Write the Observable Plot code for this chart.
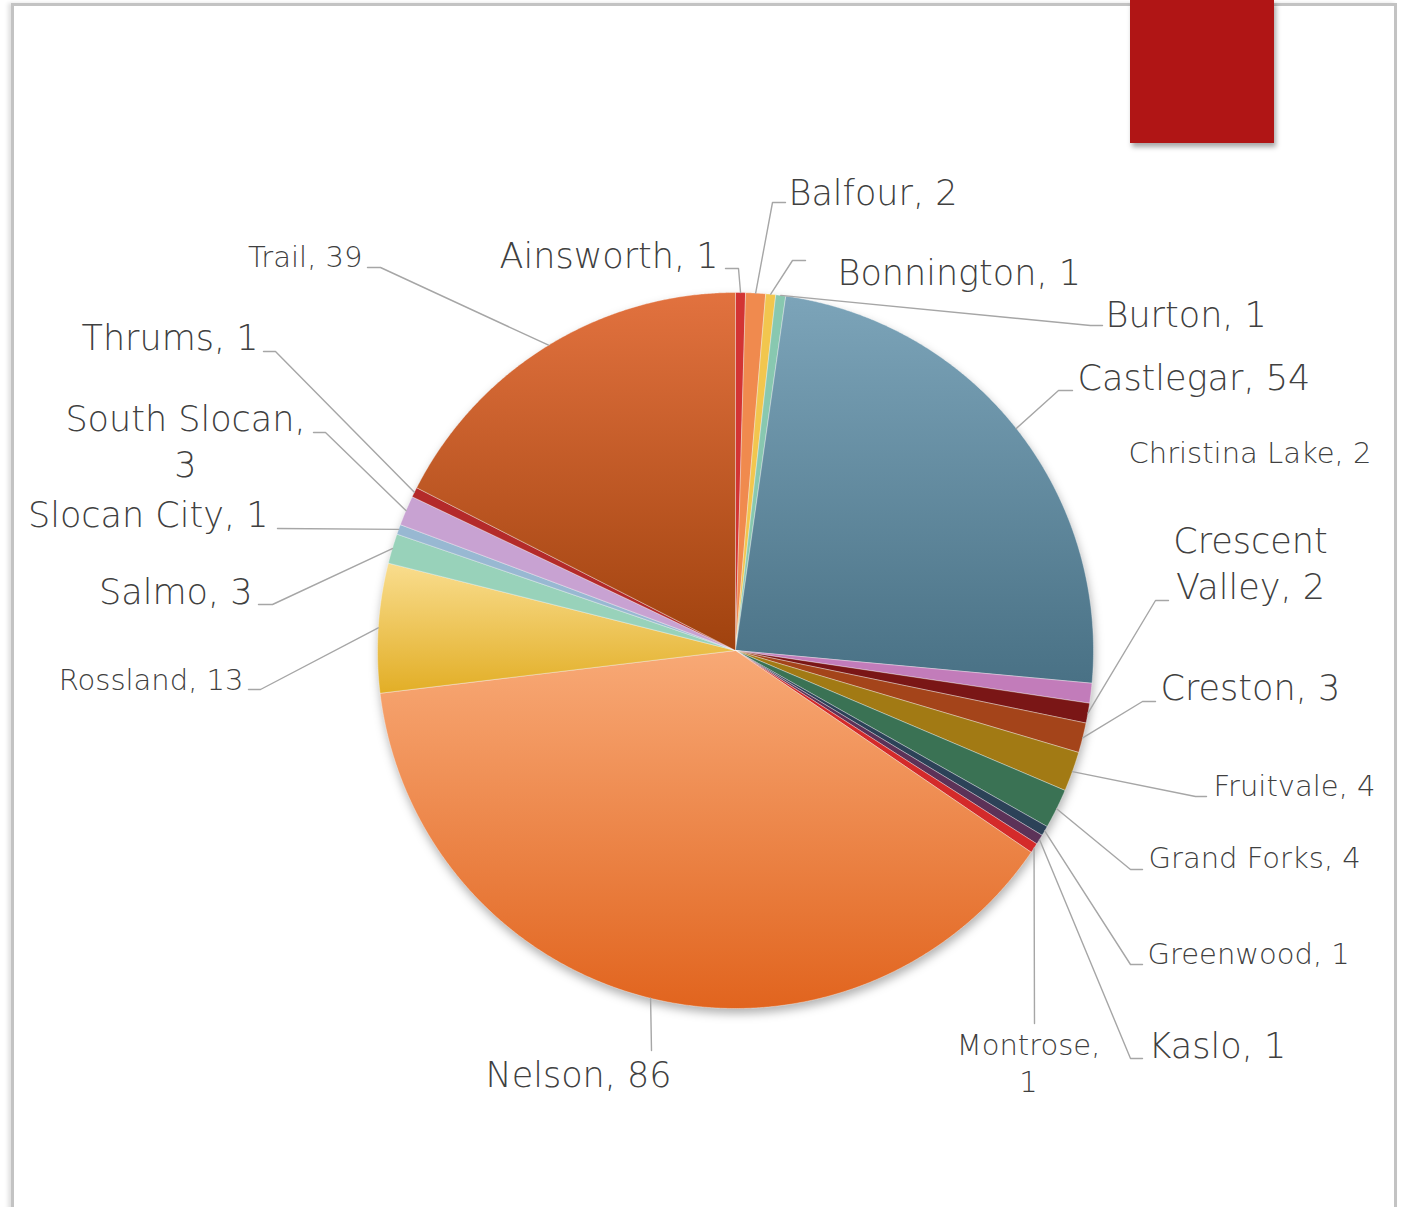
<!DOCTYPE html>
<html><head><meta charset="utf-8">
<script src="https://cdn.jsdelivr.net/npm/d3@7"></script>
<script src="https://cdn.jsdelivr.net/npm/@observablehq/plot@0.6"></script>
<style>
html,body{margin:0;padding:0;background:#fff;width:1407px;height:1207px;overflow:hidden;font-family:"DejaVu Sans",sans-serif}
#frame{position:absolute;left:11px;top:3px;width:1380px;height:1300px;border:3px solid #c3c3c3;box-shadow:-3px 0 4px rgba(0,0,0,0.12)}
#chart{position:absolute;left:0;top:0}
#badge{position:absolute;left:1130px;top:0;width:144px;height:143px;background:#b01515;box-shadow:2px 4px 5px rgba(0,0,0,0.35)}
</style></head><body>
<div id="frame"></div><div id="chart"></div><div id="badge"></div>
<script>
// ---- data ----
const towns = ["Ainsworth","Balfour","Bonnington","Burton","Castlegar","Christina Lake","Crescent Valley","Creston","Fruitvale","Grand Forks","Greenwood","Kaslo","Montrose","Nelson","Rossland","Salmo","Slocan City","South Slocan","Thrums","Trail"];
const counts = [1,2,1,1,54,2,2,3,4,4,1,1,1,86,13,3,1,3,1,39];
const sliceColors = ["#d23434","#f08a4e","#f2c64e","#88c8b0","url(#g-castlegar)","#c27cba","#7a1616","#a4441a","#a27a14","#3a7254","#2c4258","#5c3258","#d42a2a","url(#g-nelson)","url(#g-rossland)","#98d2ba","#98b8d2","#c8a2d2","#b42a2a","url(#g-trail)"];
const gradients = [
  {id:"g-castlegar", top:"#7ca4b9", bottom:"#497185"},
  {id:"g-nelson", top:"#f8a976", bottom:"#e1641e"},
  {id:"g-rossland", top:"#f9dd8e", bottom:"#e2ae26"},
  {id:"g-trail", top:"#e2723f", bottom:"#a0420e"}
];

// ---- label layout: [name, anchor, x, y, fontSize, elbowX, elbowY, stubX, wrap] ----
const labelLayout = [
  ["Ainsworth","end",718,253,35,738,268,725,null],
  ["Balfour","start",788,190,35,772,202,785,null],
  ["Bonnington","start",837,270,35,792,260,805,null],
  ["Burton","start",1105,312,35,1090,325,1102,null],
  ["Castlegar","start",1077,375,35,1058,390,1072,null],
  ["Christina Lake","start",1128,450,29,null,null,null,null],
  ["Crescent Valley","middle",1250,561,35,1155,600,1168,"word"],
  ["Creston","start",1160,685,35,1142,701,1155,null],
  ["Fruitvale","start",1213,783,29,1195,796,1206,null],
  ["Grand Forks","start",1148,855,29,1130,869,1142,null],
  ["Greenwood","start",1147,951,29,1130,964,1142,null],
  ["Kaslo","start",1148,1043,35,1130,1058,1142,null],
  ["Montrose","middle",1028,1061,29,1034,1023,1034,"comma"],
  ["Nelson","middle",578,1072,35,651,1050,651,null],
  ["Rossland","end",243,677,29,260,689,248,null],
  ["Salmo","end",252,589,35,272,604,258,null],
  ["Slocan City","end",268,512,35,277,528,277,null],
  ["South Slocan","middle",185,439,35,325,432,313,"comma"],
  ["Thrums","end",258,335,35,275,351,263,null],
  ["Trail","end",362,254,29,380,267,367,null]
];

const W = 1407, H = 1207;
const cx = 735, cy = 650, R = 358;

const arcs = d3.pie().sort(null).value(d => d)(counts);
const slicePts = [];
arcs.forEach((a, i) => {
  slicePts.push({name: towns[i], x: cx, y: cy});
  const n = Math.max(2, Math.ceil((a.endAngle - a.startAngle) / 0.005));
  for (let k = 0; k <= n; k++) {
    const t = a.startAngle + (a.endAngle - a.startAngle) * k / n;
    slicePts.push({name: towns[i], x: cx + R * Math.sin(t), y: cy - R * Math.cos(t)});
  }
  slicePts.push({name: towns[i], x: cx, y: cy});
});

const leaderPts = [];
const labels = [];
labelLayout.forEach(([name, anchor, tx, ty, fs, ex, ey, sx, wrap]) => {
  const i = towns.indexOf(name);
  const a = arcs[i];
  const mid = (a.startAngle + a.endAngle) / 2;
  let text = `${name}, ${counts[i]}`;
  if (wrap === "word") text = name.replace(" ", "\n") + `, ${counts[i]}`;
  if (wrap === "comma") text = `${name},\n${counts[i]}`;
  labels.push({name, anchor, x: tx, y: ty, size: fs, text});
  if (ex != null) {
    leaderPts.push({name, x: cx + R * Math.sin(mid), y: cy - R * Math.cos(mid)});
    leaderPts.push({name, x: ex, y: ey});
    leaderPts.push({name, x: sx, y: ey});
  }
});

const textMark = anchor => Plot.text(labels.filter(d => d.anchor === anchor), {
  x: "x", y: "y", text: "text", textAnchor: anchor, fontSize: d => d.size,
  lineAnchor: "middle", lineHeight: 1.3, fill: "#404040",
  fontFamily: "'DejaVu Sans', sans-serif", fontWeight: 200
});

const svg = Plot.plot({
  width: W, height: H, margin: 0,
  style: {background: "transparent", overflow: "visible"},
  x: {domain: [0, W], range: [0, W], axis: null},
  y: {domain: [0, H], range: [0, H], axis: null},
  color: {type: "ordinal", domain: towns, range: sliceColors},
  marks: [
    Plot.line(slicePts, {x: "x", y: "y", z: "name", fill: "name", stroke: "#ffffff", strokeOpacity: 0.45, strokeWidth: 0.8, curve: "linear"}),
    Plot.line(leaderPts, {x: "x", y: "y", z: "name", stroke: "#a6a6a6", strokeWidth: 1.4, curve: "linear"}),
    textMark("start"), textMark("end"), textMark("middle")
  ]
});

const defs = d3.select(svg).insert("defs", ":first-child");
gradients.forEach(g => {
  const lg = defs.append("linearGradient").attr("id", g.id).attr("x1", 0).attr("y1", 0).attr("x2", 0).attr("y2", 1);
  lg.append("stop").attr("offset", "0%").attr("stop-color", g.top);
  lg.append("stop").attr("offset", "100%").attr("stop-color", g.bottom);
});
const sliceGroup = svg.querySelector('g[aria-label="line"]');
if (sliceGroup) sliceGroup.style.filter = "drop-shadow(1px 5px 5px rgba(0,0,0,0.3))";

document.getElementById("chart").appendChild(svg);
</script>
</body></html>
